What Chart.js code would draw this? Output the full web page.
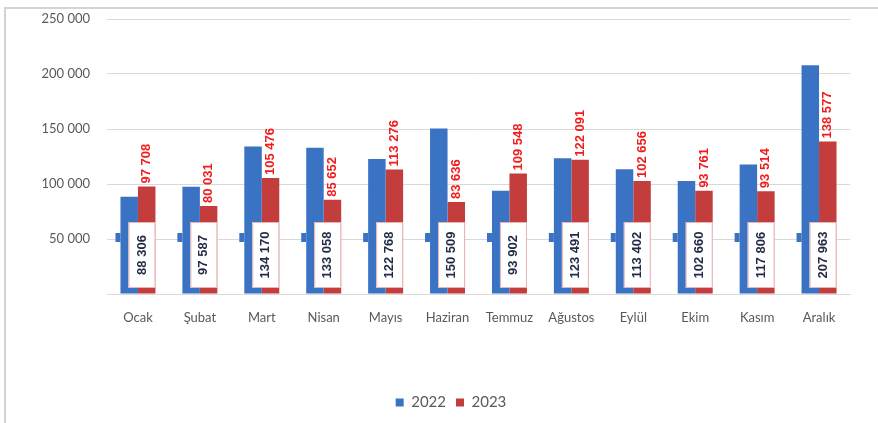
<!DOCTYPE html>
<html>
<head>
<meta charset="utf-8">
<script src="https://cdn.jsdelivr.net/npm/chart.js@4/dist/chart.umd.min.js"></script>
<style>
  html, body { margin: 0; padding: 0; background: #ffffff; }
  #wrap { width: 878px; height: 423px; position: relative; }
</style>
</head>
<body>
<div id="wrap"><canvas id="c" width="878" height="423"></canvas></div>
<script>
const categories = ['Ocak', 'Şubat', 'Mart', 'Nisan', 'Mayıs', 'Haziran', 'Temmuz', 'Ağustos', 'Eylül', 'Ekim', 'Kasım', 'Aralık'];
const values2022 = [88306, 97587, 134170, 133058, 122768, 150509, 93902, 123491, 113402, 102660, 117806, 207963];
const values2023 = [97708, 80031, 105476, 85652, 113276, 83636, 109548, 122091, 102656, 93761, 93514, 138577];
const seriesNames = ['2022', '2023'];
const yTicks = [0, 50000, 100000, 150000, 200000, 250000];

const BLUE = '#3b73c4';
const RED = '#c23d3b';

function fmt(v) {
  return String(v).replace(/\B(?=(\d{3})+(?!\d))/g, ' ');
}

const decor = {
  id: 'decor',
  afterLayout(chart) {
    if (chart.legend) {
      chart.legend.left += 26;
      chart.legend.right += 26;
    }
  },
  beforeDraw(chart) {
    const ctx = chart.ctx;
    ctx.save();
    ctx.fillStyle = '#ffffff';
    ctx.fillRect(0, 0, chart.width, chart.height);
    ctx.strokeStyle = '#d4d4d4';
    ctx.lineWidth = 2;
    ctx.beginPath();
    ctx.moveTo(5, chart.height);
    ctx.lineTo(5, 8);
    ctx.lineTo(chart.width, 8);
    ctx.stroke();
    ctx.restore();
  },
  afterDatasetsDraw(chart) {
    const ctx = chart.ctx;
    const area = chart.chartArea;
    const m0 = chart.getDatasetMeta(0).data;
    const m1 = chart.getDatasetMeta(1).data;
    ctx.save();
    for (let i = 0; i < m0.length; i++) {
      const b = m0[i], r = m1[i];
      const bLeft = b.x - b.width / 2;
      const rRight = r.x + r.width / 2;
      ctx.fillStyle = BLUE;
      ctx.fillRect(bLeft - 5, area.bottom - 61, 5, 9);
      const bx = bLeft + 8, by = area.bottom - 72, bw = rRight - bx, bh = 66;
      ctx.fillStyle = '#ffffff';
      ctx.fillRect(bx, by, bw, bh);
      ctx.strokeStyle = '#e8b4b4';
      ctx.lineWidth = 1;
      ctx.strokeRect(bx + 0.5, by + 0.5, bw - 1, bh - 1);
      ctx.save();
      ctx.translate(bx + bw / 2, by + bh / 2);
      ctx.rotate(-Math.PI / 2);
      ctx.font = 'bold 13px "Liberation Sans", Arial, sans-serif';
      ctx.fillStyle = '#1f2a44';
      ctx.textAlign = 'center';
      ctx.textBaseline = 'middle';
      ctx.fillText(fmt(values2022[i]), 0, 0);
      ctx.restore();
      ctx.save();
      ctx.translate(r.x, r.y - 3);
      ctx.rotate(-Math.PI / 2);
      ctx.font = 'bold 13px "Liberation Sans", Arial, sans-serif';
      ctx.fillStyle = '#f01c1c';
      ctx.textAlign = 'left';
      ctx.textBaseline = 'middle';
      ctx.fillText(fmt(values2023[i]), 0, 0);
      ctx.restore();
    }
    ctx.restore();
  }
};

new Chart(document.getElementById('c'), {
  type: 'bar',
  data: {
    labels: categories,
    datasets: [
      { label: seriesNames[0], data: values2022, backgroundColor: BLUE, borderWidth: 0 },
      { label: seriesNames[1], data: values2023, backgroundColor: RED, borderWidth: 0 }
    ]
  },
  options: {
    responsive: false,
    animation: false,
    devicePixelRatio: 1,
    categoryPercentage: 0.565,
    barPercentage: 1.0,
    layout: { padding: { left: 0, right: 28, top: 19, bottom: 3 } },
    plugins: {
      legend: {
        position: 'bottom',
        labels: {
          boxWidth: 8, boxHeight: 8,
          color: '#595959',
          font: { family: 'Lato, "Open Sans", sans-serif', size: 15 },
          padding: 10
        }
      },
      tooltip: { enabled: false }
    },
    scales: {
      x: {
        grid: { display: false, drawTicks: false },
        border: { color: '#d9d9d9' },
        ticks: {
          color: '#595959',
          font: { family: 'Lato, "Open Sans", sans-serif', size: 13 },
          padding: 16,
          maxRotation: 0, autoSkip: false
        },
        afterFit(scale) { scale.height = 91; }
      },
      y: {
        min: 0, max: 250000,
        afterBuildTicks(scale) { scale.ticks = yTicks.map(v => ({ value: v })); },
        grid: { color: '#d9d9d9', drawTicks: true, tickLength: 17, tickColor: 'rgba(0,0,0,0)' },
        border: { display: false },
        ticks: {
          color: '#595959',
          font: { family: 'Lato, "Open Sans", sans-serif', size: 13 },
          padding: 0,
          callback: (v) => v === 0 ? '' : fmt(v)
        },
        afterFit(scale) { scale.width = 107; }
      }
    }
  },
  plugins: [decor]
});
</script>
</body>
</html>
